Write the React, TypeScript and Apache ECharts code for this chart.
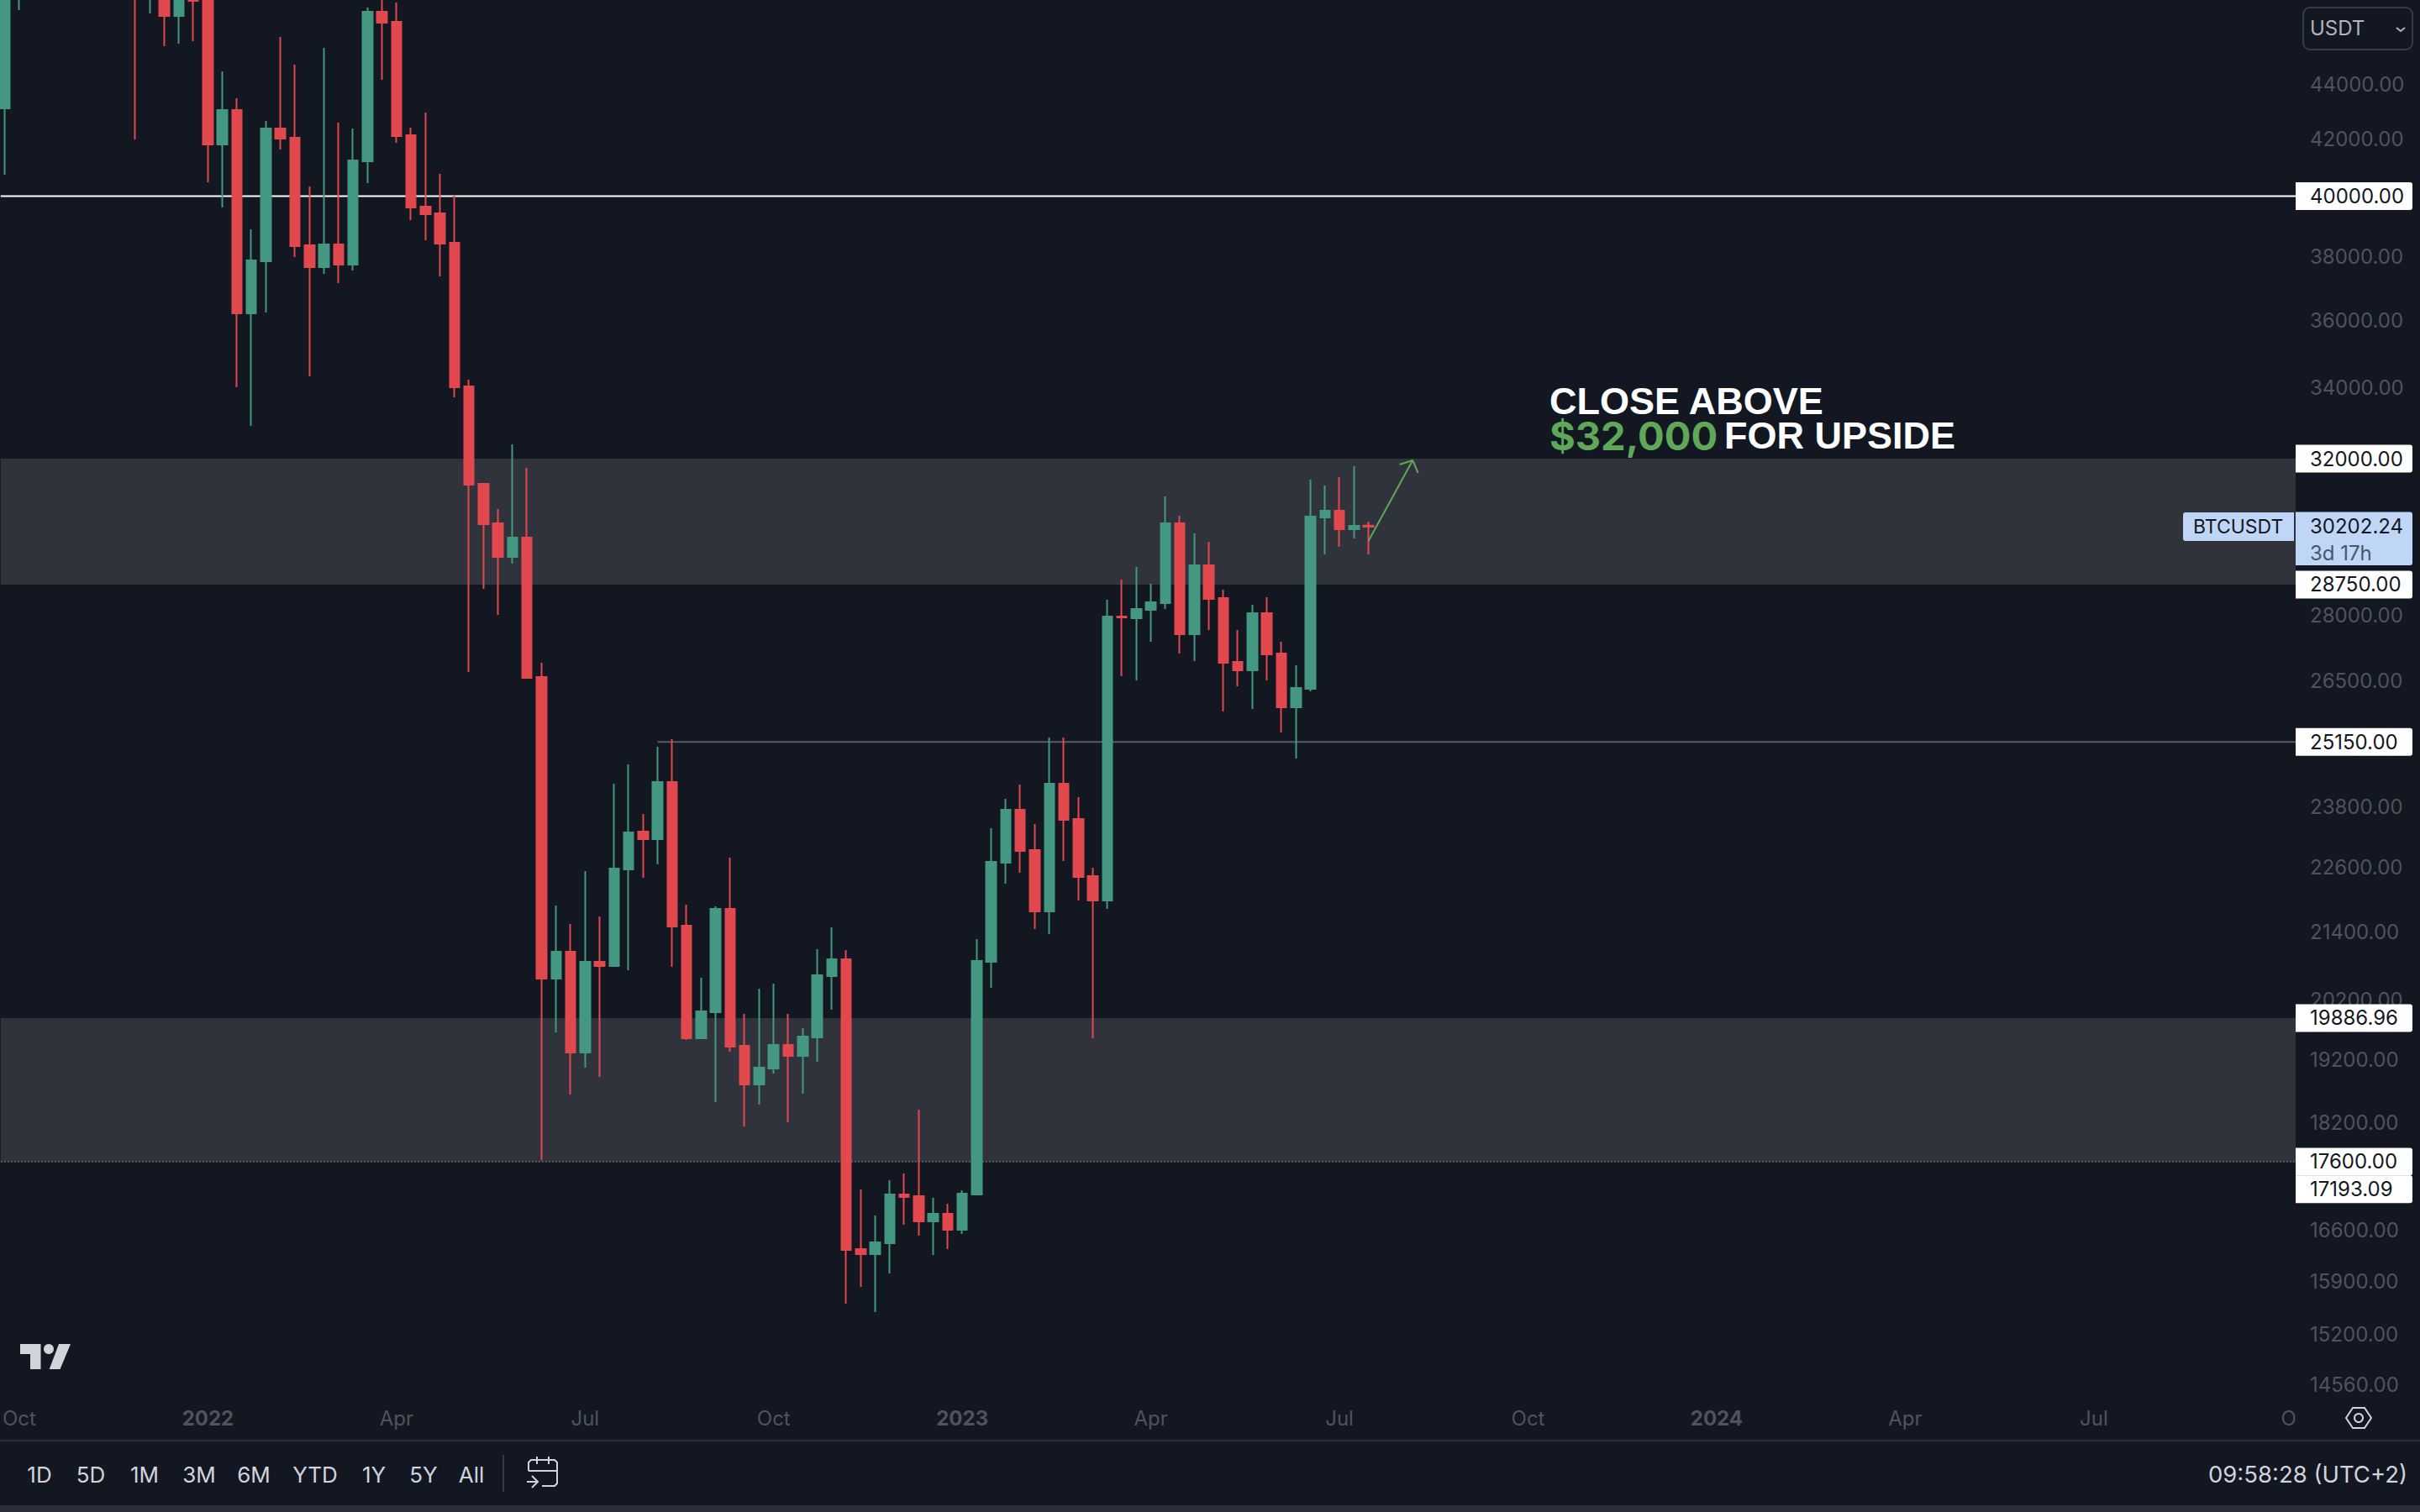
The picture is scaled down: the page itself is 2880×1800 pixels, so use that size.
import { useEffect, useRef } from 'react';
import * as echarts from 'echarts';

// weekly bars, Monday open
const dates = [
  '2021-09-27', '2021-10-04', '2021-10-11', '2021-10-18', '2021-10-25', '2021-11-01', '2021-11-08', '2021-11-15', '2021-11-22', '2021-11-29',
  '2021-12-06', '2021-12-13', '2021-12-20', '2021-12-27', '2022-01-03', '2022-01-10', '2022-01-17', '2022-01-24', '2022-01-31', '2022-02-07',
  '2022-02-14', '2022-02-21', '2022-02-28', '2022-03-07', '2022-03-14', '2022-03-21', '2022-03-28', '2022-04-04', '2022-04-11', '2022-04-18',
  '2022-04-25', '2022-05-02', '2022-05-09', '2022-05-16', '2022-05-23', '2022-05-30', '2022-06-06', '2022-06-13', '2022-06-20', '2022-06-27',
  '2022-07-04', '2022-07-11', '2022-07-18', '2022-07-25', '2022-08-01', '2022-08-08', '2022-08-15', '2022-08-22', '2022-08-29', '2022-09-05',
  '2022-09-12', '2022-09-19', '2022-09-26', '2022-10-03', '2022-10-10', '2022-10-17', '2022-10-24', '2022-10-31', '2022-11-07', '2022-11-14',
  '2022-11-21', '2022-11-28', '2022-12-05', '2022-12-12', '2022-12-19', '2022-12-26', '2023-01-02', '2023-01-09', '2023-01-16', '2023-01-23',
  '2023-01-30', '2023-02-06', '2023-02-13', '2023-02-20', '2023-02-27', '2023-03-06', '2023-03-13', '2023-03-20', '2023-03-27', '2023-04-03',
  '2023-04-10', '2023-04-17', '2023-04-24', '2023-05-01', '2023-05-08', '2023-05-15', '2023-05-22', '2023-05-29', '2023-06-05', '2023-06-12',
  '2023-06-19', '2023-06-26', '2023-07-03', '2023-07-10', '2023-07-17',
];
const opens = [
  43103, 48200, 55000, 60800, 60900, 61300, 65500, 65500, 59000, 57200,
  49400, 50100, 46627, 50700, 47300, 41800, 43042, 36209, 37848, 42370,
  42039, 38365, 37660, 38392, 37740, 41206, 46794, 46394, 42129, 39648,
  39421, 38447, 34026, 31323, 30286, 29433, 29921, 26576, 20564, 21040,
  19312, 20860, 20786, 22566, 23302, 23153, 24306, 21511, 19548, 19985,
  21820, 19423, 18795, 19052, 19437, 19257, 19562, 20609, 20905, 16339,
  16269, 16421, 17116, 17091, 16729, 16837, 16610, 17116, 20860, 22696,
  23739, 22939, 21773, 24271, 23553, 22437, 21977, 27978, 27938, 28138,
  28300, 30286, 27561, 29224, 28421, 26920, 26728, 28058, 27113, 25901,
  26311, 30438, 30612, 30135, 30230,
];
const closes = [
  48200, 55000, 60800, 60900, 61300, 65500, 65500, 59000, 57200, 49400,
  50100, 46627, 50800, 47230, 41800, 43042, 36209, 37875, 42370, 42009,
  38338, 37660, 38392, 37740, 41235, 46794, 46361, 42099, 39619, 39393,
  38420, 34002, 31300, 30265, 29433, 29921, 26557, 20564, 21040, 19312,
  20860, 20786, 22582, 23286, 23153, 24306, 21496, 19548, 20000, 21820,
  19409, 18795, 19065, 19437, 19257, 19576, 20623, 20905, 16328, 16269,
  16433, 17116, 17079, 16729, 16837, 16610, 17128, 20875, 22712, 23739,
  22923, 21773, 24271, 23536, 22421, 21977, 27978, 27958, 28158, 28320,
  30286, 27561, 29224, 28401, 26900, 26728, 28058, 27093, 25901, 26330,
  30460, 30612, 30135, 30221, 30202.24,
];
const lows = [
  40740, 46860, 54000, 58000, 57800, 60100, 62300, 55600, 53500, 41979,
  46727, 45443, 45541, 45638, 40478, 39619, 34002, 32904, 36235, 41620,
  37984, 34319, 37445, 37152, 37552, 40449, 44163, 41859, 39196, 38530,
  37365, 33713, 26690, 28646, 28018, 29265, 26557, 17623, 19646, 18634,
  19065, 18916, 20771, 20712, 22405, 22663, 20771, 19520, 19548, 18515,
  19326, 18135, 18475, 18970, 18200, 18647, 19161, 20028, 15598, 15822,
  15487, 16004, 16681, 16527, 16258, 16339, 16551, 17104, 20403, 22293,
  22501, 21450, 21359, 22728, 21977, 19548, 21820, 26595, 26500, 27385,
  28158, 27113, 26939, 27660, 25809, 26367, 25864, 26500, 25352, 24797,
  26255, 29496, 29687, 29900, 29496,
];
const highs = [
  49200, 56000, 62900, 67000, 63700, 66300, 69000, 66300, 59500, 59000,
  51900, 50500, 51900, 52000, 47550, 44480, 43474, 38890, 42643, 45803,
  44734, 40333, 45378, 42583, 42370, 46961, 48200, 47163, 42400, 42949,
  40767, 40017, 34221, 31345, 30656, 32391, 31750, 26900, 21882, 21542,
  22533, 21680, 24271, 24673, 23655, 25046, 25207, 21898, 20579, 21867,
  22793, 19957, 20389, 20476, 19957, 19717, 21085, 21481, 21070, 17190,
  16813, 17325, 17424, 18396, 17067, 16982, 17178, 21266, 23369, 23961,
  24254, 23452, 25243, 25243, 23995, 22598, 28381, 28871, 29182, 28768,
  30988, 30482, 30028, 29814, 28625, 27660, 28259, 28442, 27385, 26843,
  31434, 31278, 31502, 31796, 30329,
];

const priceTicks = [44000, 42000, 38000, 36000, 34000, 28000, 26500, 23800, 22600, 21400, 20200, 19200, 18200, 16600, 15900, 15200, 14560];
// order matters: echarts drops the last label if it touches the one before it
const drawnLevels = [17193.09, 17600, 19886.96, 25150, 28750, 32000, 40000];
const lastPrice = 30202.24;
const countdownAt = 29538;

const timeTickDates = ['2021-10-04', '2022-01-03', '2022-04-04', '2022-07-04', '2022-10-03', '2023-01-02', '2023-04-03', '2023-07-03', '2023-10-02', '2024-01-01', '2024-04-01', '2024-07-01', '2024-10-03'];
const timeTickLabels = ['Oct', '2022', 'Apr', 'Jul', 'Oct', '2023', 'Apr', 'Jul', 'Oct', '2024', 'Apr', 'Jul', 'O'];

const zones = [[32000, 28750], [19886.96, 17600]];
const arrowShaft = [['2023-07-17', 29836], ['2023-08-07T08:00:00', 31955]];
const arrowHead = [['2023-08-01', 31841], ['2023-08-07T08:00:00', 31955], ['2023-08-09T22:00:00', 31614]];

const rangeButtons = ['1D', '5D', '1M', '3M', '6M', 'YTD', '1Y', '5Y', 'All'];
const rangeButtonX = [47, 108, 172, 237, 302, 375, 445, 504, 561];

const BG = '#131722';
const UP = '#449882';
const DOWN = '#E2494F';
const ZONE = '#30333C';
const DIM = '#50535E';
const LIGHT = '#D1D4DC';
const BLUE = '#BFD6F7';
const SANS = 'Inter';

const DAY = 86400000;
const WEEK_PX = 17.27;
const PLOT_W = 2732;
const ts = (d: string) => +new Date(d.length > 10 ? d : `${d}T00:00:00`);
const xMin = ts(dates[0]) - (4.9 / WEEK_PX) * 7 * DAY;
const xMax = xMin + (PLOT_W / WEEK_PX) * 7 * DAY;
const timeTicks = timeTickDates.map(ts);

function priceLabel(value: number) {
  const v = Math.round(value * 100) / 100;
  if (Math.abs(v - countdownAt) < 1) return '{count|3d 17h}';
  if (Math.abs(v - lastPrice) < 1) return `{last|${lastPrice.toFixed(2)}}`;
  if (drawnLevels.some((l) => Math.abs(l - v) < 1)) return `{tag|${v.toFixed(2)}}`;
  return `{tick|${v.toFixed(2)}}`;
}

function timeLabel(value: number) {
  const i = timeTicks.indexOf(value);
  const text = i >= 0 ? timeTickLabels[i] : '';
  return /^\d{4}$/.test(text) ? `{year|${text}}` : text;
}

function hLine(name: string, data: any[], color: string, width: number, type = 'solid') {
  return {
    name, type: 'line', data, symbol: 'none', silent: true, z: 1,
    lineStyle: { color, width, type },
  };
}

function overlay() {
  const buttons = rangeButtons.map((t, i) => ({
    type: 'text', x: rangeButtonX[i], y: 1755, silent: true,
    style: { text: t, fill: LIGHT, font: `26px ${SANS}`, align: 'center', verticalAlign: 'middle' },
  }));
  const stroke = { stroke: LIGHT, lineWidth: 2, fill: 'none' };
  return [
    { type: 'rect', shape: { x: 0, y: 1714, width: 2880, height: 2 }, style: { fill: '#2A2E39' }, silent: true },
    { type: 'rect', shape: { x: 0, y: 1792, width: 2880, height: 8 }, style: { fill: '#2A2E39' }, silent: true },
    ...buttons,
    { type: 'rect', shape: { x: 598, y: 1732, width: 2, height: 44 }, style: { fill: '#363A45' }, silent: true },
    // calendar icon
    { type: 'polyline', shape: { points: [[629, 1751], [629, 1741], [632, 1738], [660, 1738], [663, 1741], [663, 1766], [660, 1769], [645, 1769]] }, style: stroke, silent: true },
    { type: 'line', shape: { x1: 629, y1: 1751, x2: 663, y2: 1751 }, style: stroke, silent: true },
    { type: 'line', shape: { x1: 639, y1: 1734, x2: 639, y2: 1743 }, style: stroke, silent: true },
    { type: 'line', shape: { x1: 653, y1: 1734, x2: 653, y2: 1743 }, style: stroke, silent: true },
    { type: 'line', shape: { x1: 627, y1: 1764, x2: 640, y2: 1764 }, style: stroke, silent: true },
    { type: 'polyline', shape: { points: [[633, 1757], [640, 1764], [633, 1771]] }, style: stroke, silent: true },
    {
      type: 'text', x: 2865, y: 1755, silent: true,
      style: { text: '09:58:28 (UTC+2)', fill: LIGHT, font: `27.5px ${SANS}`, align: 'right', verticalAlign: 'middle' },
    },
    // logo
    { type: 'polygon', shape: { points: [[24, 1600], [48.5, 1600], [48.5, 1630], [36, 1630], [36, 1612], [24, 1612]] }, style: { fill: LIGHT }, silent: true },
    { type: 'circle', shape: { cx: 58, cy: 1606, r: 6 }, style: { fill: LIGHT }, silent: true },
    { type: 'polygon', shape: { points: [[70, 1600], [84, 1600], [71.5, 1630], [58.7, 1630]] }, style: { fill: LIGHT }, silent: true },
    // settings hexagon
    { type: 'polygon', shape: { points: [[2792, 1688], [2800, 1676], [2814, 1676], [2822, 1688], [2814, 1700], [2800, 1700]] }, style: stroke, silent: true },
    { type: 'circle', shape: { cx: 2807, cy: 1688, r: 5 }, style: stroke, silent: true },
    // currency button
    { type: 'rect', shape: { x: 2741, y: 9, width: 130, height: 50, r: 8 }, style: { fill: 'none', stroke: '#363A45', lineWidth: 2 }, silent: true },
    { type: 'text', x: 2749, y: 33, silent: true, style: { text: 'USDT', fill: '#B2B5BE', font: `24px ${SANS}`, verticalAlign: 'middle' } },
    { type: 'polyline', shape: { points: [[2852, 33], [2857, 37], [2862, 33]] }, style: { stroke: '#B2B5BE', lineWidth: 2, fill: 'none' }, silent: true },
    // symbol tag, above the zone
    { type: 'rect', z: 10, shape: { x: 2598, y: 610, width: 132, height: 34, r: [3, 0, 0, 3] }, style: { fill: BLUE }, silent: true },
    { type: 'text', z: 11, x: 2610, y: 627, silent: true, style: { text: 'BTCUSDT', fill: BG, font: `23px ${SANS}`, verticalAlign: 'middle' } },
    // note
    { type: 'text', x: 1844, y: 477, silent: true, style: { text: 'CLOSE ABOVE', fill: '#FFFFFF', font: 'bold 45px "Liberation Sans"', verticalAlign: 'middle' } },
    { type: 'text', x: 1844, y: 518, silent: true, style: { text: '$32,000', fill: '#5FA858', font: `bold 47px ${SANS}`, verticalAlign: 'middle' } },
    { type: 'text', x: 2052, y: 518, silent: true, style: { text: 'FOR UPSIDE', fill: '#FFFFFF', font: 'bold 45px "Liberation Sans"', verticalAlign: 'middle' } },
  ];
}

export default function App() {
  const ref = useRef<HTMLDivElement>(null);

  useEffect(() => {
    if (!ref.current) return;
    const chart = echarts.init(ref.current, undefined, { renderer: 'svg' });
    const pt = (rows: any[]) => rows.map(([d, p]) => [ts(d), p]);
    chart.setOption({
      animation: false,
      backgroundColor: BG,
      grid: { left: 0, top: 0, width: PLOT_W, height: 1660 },
      xAxis: {
        type: 'value',
        min: xMin,
        max: xMax,
        axisLine: { show: false },
        axisTick: { show: false },
        splitLine: { show: false },
        axisLabel: {
          customValues: timeTicks,
          formatter: timeLabel,
          color: DIM,
          fontSize: 24,
          fontFamily: SANS,
          margin: 16,
          rich: { year: { color: DIM, fontSize: 24, fontFamily: SANS, fontWeight: 'bold' } },
        },
      },
      yAxis: {
        type: 'log',
        position: 'right',
        min: 14440,
        max: 47264,
        axisLine: { show: false },
        axisTick: { show: false },
        splitLine: { show: false },
        axisLabel: {
          customValues: [...priceTicks, lastPrice, countdownAt, ...drawnLevels],
          formatter: priceLabel,
          margin: 0,
          align: 'left',
          fontFamily: SANS,
          fontSize: 24,
          rich: {
            tick: { color: DIM, fontFamily: SANS, fontSize: 24, width: 122, height: 34, padding: [0, 0, 0, 17] },
            tag: { color: BG, backgroundColor: '#FFFFFF', fontFamily: SANS, fontSize: 24, width: 122, height: 33, padding: [0, 0, 0, 17], borderRadius: [0, 3, 3, 0] },
            last: { color: BG, backgroundColor: BLUE, fontFamily: SANS, fontSize: 24, width: 122, height: 35, padding: [0, 0, 0, 17], borderRadius: [0, 3, 0, 0] },
            count: { color: '#4A5568', backgroundColor: BLUE, fontFamily: SANS, fontSize: 24, width: 122, height: 30, padding: [0, 0, 0, 17], borderRadius: [0, 0, 3, 0] },
          },
        },
      },
      series: [
        hLine('level 40000', [[xMin, 40000], [xMax, 40000]], '#FFFFFF', 2),
        hLine('level 25150', [[ts('2022-08-08'), 25150], [xMax, 25150]], '#5A5D68', 2),
        hLine('level 17600', [[xMin, 17600], [xMax, 17600]], '#565964', 2, 'dotted'),
        {
          name: 'BTCUSDT',
          type: 'candlestick',
          barWidth: 12,
          z: 2,
          data: dates.map((d, i) => [ts(d), opens[i], closes[i], lows[i], highs[i]]),
          itemStyle: { color: UP, color0: DOWN, borderColor: UP, borderColor0: DOWN, borderWidth: 2 },
          markArea: {
            silent: true,
            z: 0,
            itemStyle: { color: ZONE, opacity: 1, borderWidth: 0, borderColor: ZONE },
            data: zones.map(([top, bottom]) => [{ yAxis: top }, { yAxis: bottom }]),
          },
        },
        { ...hLine('arrow', pt(arrowShaft), '#5FA858', 2), z: 3 },
        { ...hLine('arrow head', pt(arrowHead), '#5FA858', 2), z: 3 },
      ],
      graphic: overlay(),
    });
    return () => chart.dispose();
  }, []);

  return <div ref={ref} style={{ position: 'fixed', left: 0, top: 0, width: 2880, height: 1800 }} />;
}
